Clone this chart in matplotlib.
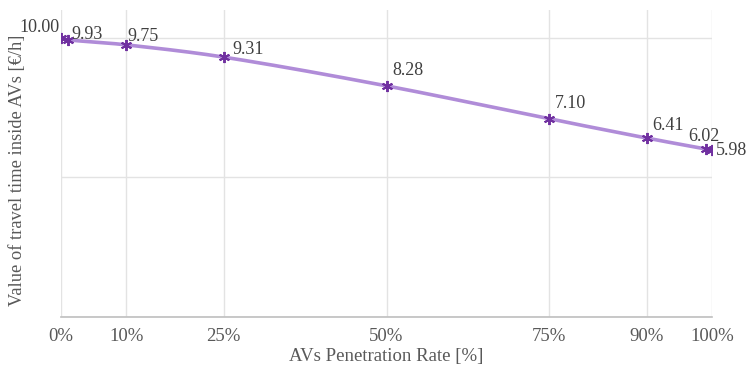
import numpy as np
import matplotlib.pyplot as plt

# penetration rate (%) and value of travel time (EUR/h)
rate = [0, 1, 10, 25, 50, 75, 90, 99, 100]
vot = [10.00, 9.93, 9.75, 9.31, 8.28, 7.10, 6.41, 6.02, 5.98]
tick_pos = [0, 10, 25, 50, 75, 90, 100]
tick_lbl = ['0%', '10%', '25%', '50%', '75%', '90%', '100%']

plt.rcParams['font.family'] = ['Liberation Serif', 'DejaVu Serif']
grey = '#595959'


def smooth(x, y, n=40):
    # cubic hermite through the points, finite-difference slopes
    x = np.asarray(x, float)
    y = np.asarray(y, float)
    m = np.zeros_like(y)
    m[0] = (y[1] - y[0]) / (x[1] - x[0])
    m[-1] = (y[-1] - y[-2]) / (x[-1] - x[-2])
    m[1:-1] = (y[2:] - y[:-2]) / (x[2:] - x[:-2])
    xs, ys = [], []
    for i in range(len(x) - 1):
        h = x[i + 1] - x[i]
        t = np.linspace(0, 1, n)
        h00 = 2 * t**3 - 3 * t**2 + 1
        h10 = t**3 - 2 * t**2 + t
        h01 = -2 * t**3 + 3 * t**2
        h11 = t**3 - t**2
        xs.append(x[i] + h * t)
        ys.append(h00 * y[i] + h10 * h * m[i] + h01 * y[i + 1] + h11 * h * m[i + 1])
    return np.concatenate(xs), np.concatenate(ys)


fig = plt.figure(figsize=(7.53, 3.67), dpi=100)
ax = fig.add_axes([0.081, 0.136, 0.8646, 0.837])

sx, sy = smooth(rate, vot)
ax.plot(sx, sy, color='#B08CD8', lw=2.6, solid_capstyle='round', zorder=2)
ax.plot(rate, vot, ls='none', marker=(6, 2, 0), ms=8, mew=1.4,
        color='#7030A0', zorder=3)

# label placement per point (offset in points, alignment)
offs = [((-1, 1.5), 'right', 'bottom'),
        ((3, -2), 'left', 'bottom'),
        ((1, -0.3), 'left', 'bottom'),
        ((6, -0.3), 'left', 'bottom'),
        ((4, 5), 'left', 'bottom'),
        ((4, 5), 'left', 'bottom'),
        ((4, 3), 'left', 'bottom'),
        ((-1, 3), 'center', 'bottom'),
        ((3, 0), 'left', 'center')]
for xv, yv, (o, ha, va) in zip(rate, vot, offs):
    ax.annotate(f'{yv:.2f}', (xv, yv), xytext=o, textcoords='offset points',
                ha=ha, va=va, fontsize=13, color='#404040')

ax.set_xlim(0, 100)
ax.set_ylim(0, 11)
ax.set_xticks(tick_pos)
ax.set_xticklabels(tick_lbl)
ax.set_yticks([0, 5, 10])
ax.set_yticklabels([])
ax.tick_params(axis='both', length=0, labelsize=13.5, labelcolor=grey, pad=8)
ax.grid(True, color='#E3E3E3', lw=1)
ax.set_axisbelow(True)
for s in ['top', 'right', 'left']:
    ax.spines[s].set_visible(False)
ax.spines['bottom'].set_color('#BFBFBF')
ax.spines['bottom'].set_linewidth(1.2)

ax.set_xlabel('AVs Penetration Rate [%]', fontsize=13.5, color=grey, labelpad=2)
ax.set_ylabel('Value of travel time inside AVs [€/h]', fontsize=13.3, color=grey)
ax.yaxis.set_label_coords(-0.054, 0.479)

fig.savefig('out.png', dpi=100)
